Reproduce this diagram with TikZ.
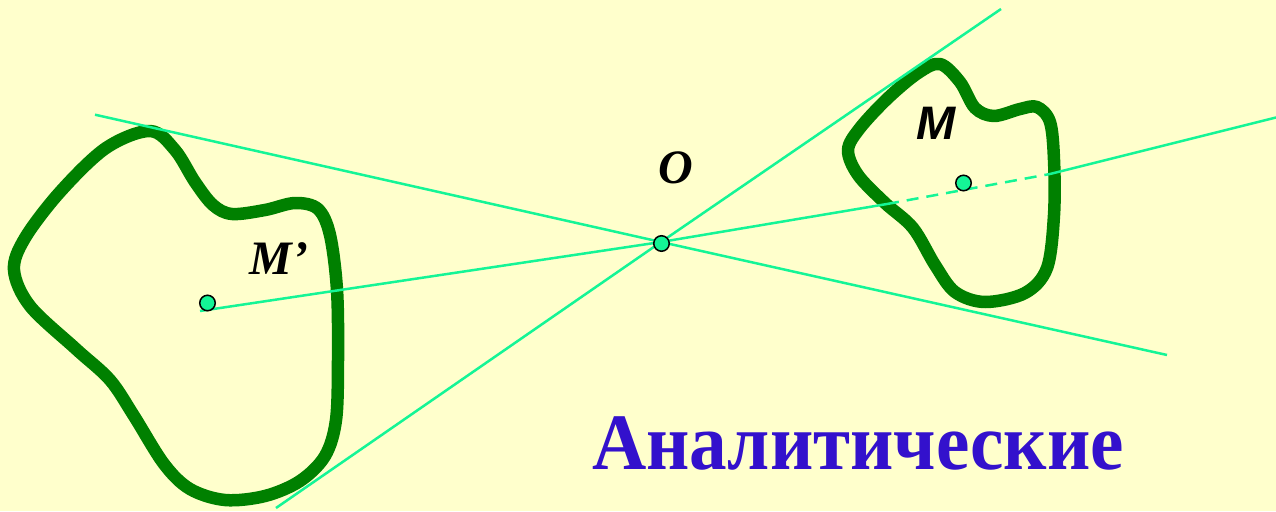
\documentclass[tikz,border=0pt]{standalone}
\usepackage{fontspec}
\setmainfont{Liberation Serif}
\newfontfamily\arialf{Liberation Sans}
\definecolor{bg}{RGB}{255,255,204}
\definecolor{shapegreen}{RGB}{0,128,0}
\definecolor{ray}{RGB}{20,245,150}
\definecolor{titleblue}{RGB}{51,17,204}
\begin{document}
\begin{tikzpicture}[x=1pt,y=-1pt,
  figure/.style={draw=shapegreen,line width=12.5pt,line join=round},
  rayline/.style={draw=ray,line width=2.5pt},
  raydash/.style={draw=ray,line width=2.5pt,dash pattern=on 12pt off 8pt},
  ptdot/.style={circle,draw=black,line width=1.5pt,fill=ray,minimum size=15.5pt,inner sep=0pt},
  lbl/.style={inner sep=0pt,anchor=base,font=\fontsize{48}{48}\selectfont\bfseries\itshape}]
\fill[bg] (0,0) rectangle (1276,511);
\useasboundingbox (0,0) rectangle (1276,511);
% left figure (M')
\draw[figure] plot[smooth cycle,tension=0.55] coordinates {
 (150,131) (175,150) (195,182) (213,205) (232,214) (265,210) (295,203)
 (318,209) (330,235) (337,290) (338,360) (336,420) (325,456) (300,481)
 (265,496) (225,500) (190,489) (164,464) (134,416) (110,380) (76,349)
 (30,306) (14,270) (25,238) (60,192) (106,148)};
% right figure (M)
\draw[figure] plot[smooth cycle,tension=0.55] coordinates {
 (940,64) (960,82) (975,108) (994,116) (1020,109) (1037,107) (1050,122)
 (1054,160) (1054,215) (1047,268) (1025,293) (985,302) (955,292)
 (935,265) (913,228) (885,203) (858,175) (848,150) (860,128) (888,98)
 (918,73)};
% points
\coordinate (O) at (661,242);
\coordinate (L1a) at (95,114.7);
\coordinate (L1b) at (1167,355);
\coordinate (L2a) at (276,508);
\coordinate (L2b) at (1001,9);
\coordinate (Ms) at (200,311);
\coordinate (A) at (887,204);
\coordinate (B) at (1050,174);
\coordinate (E) at (1276,117.5);
\draw[rayline] (L1a) -- (O) -- (L1b);
\draw[rayline] (L2a) -- (O) -- (L2b);
\draw[rayline] (Ms) -- (O) -- (A);
\draw[raydash] (A) -- (B);
\draw[rayline] (B) -- (E);
\node[ptdot] (Odot) at (661.5,243.5) {};
\node[ptdot] (Mdot) at (963.5,183) {};
\node[ptdot] (Mpdot) at (207.5,303) {};
% labels
\node[lbl] (Olbl) at (676,183) {O};
\node[lbl] (Mplbl) at (279,274) {M’};
\node[lbl,font=\fontsize{47}{47}\selectfont\arialf\bfseries\itshape] (Mlbl) at (936,139) {M};
\node[inner sep=0pt,anchor=base,text=titleblue,font=\fontsize{80}{80}\selectfont\bfseries] (title) at (858,469) {\scalebox{0.94}[1]{Аналитические}};
\end{tikzpicture}
\end{document}
